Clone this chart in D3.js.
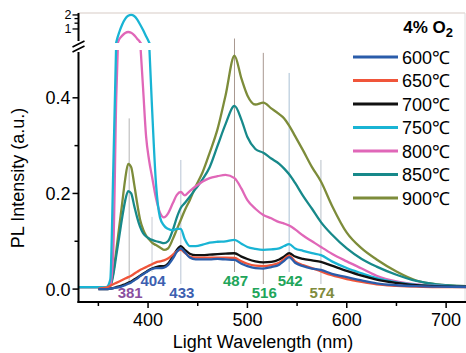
<!DOCTYPE html>
<html>
<head>
<script src="https://cdn.jsdelivr.net/npm/d3@7"></script>
<meta charset="utf-8">
<title>PL spectra</title>
<style>
  body { margin: 0; background: #fff; }
  svg { display: block; font-family: "Liberation Sans", Arial, sans-serif; }
</style>
</head>
<body>
<div id="chartArea"></div>
<script>
  // wavelength grid (nm)
  var wl = [330, 350, 358, 362, 365, 368, 371, 374, 377, 380, 383, 386, 389, 392, 395, 398, 401, 404, 408, 412,
            416, 420, 425, 429, 433, 437, 442, 448, 455, 462, 470, 478, 487, 494, 500, 508, 516, 524, 532, 537,
            542, 548, 556, 565, 574, 585, 600, 615, 630, 650, 670, 690, 720];

  var s600 = [null, 0, 0, 0.001, 0.002, 0.003, 0.004, 0.006, 0.008, 0.011, 0.014, 0.018, 0.022, 0.027, 0.031, 0.035, 0.039, 0.042, 0.044, 0.044,
              0.045, 0.05, 0.064, 0.078, 0.085, 0.077, 0.066, 0.062, 0.062, 0.062, 0.063, 0.062, 0.061, 0.053, 0.048, 0.044, 0.043, 0.046, 0.051, 0.059,
              0.067, 0.055, 0.048, 0.043, 0.04, 0.032, 0.025, 0.018, 0.012, 0.008, 0.006, 0.005, 0.004];
  var s650 = [null, 0.001, 0.003, 0.007, 0.01, 0.013, 0.016, 0.019, 0.022, 0.025, 0.028, 0.032, 0.036, 0.04, 0.043, 0.046, 0.049, 0.052, 0.056, 0.058,
              0.06, 0.064, 0.072, 0.079, 0.082, 0.076, 0.068, 0.066, 0.066, 0.066, 0.066, 0.066, 0.065, 0.058, 0.053, 0.049, 0.048, 0.05, 0.055, 0.063,
              0.07, 0.058, 0.05, 0.044, 0.037, 0.029, 0.021, 0.015, 0.01, 0.007, 0.005, 0.004, 0.004];
  var s700 = [null, 0, 0, 0.001, 0.002, 0.004, 0.006, 0.008, 0.01, 0.013, 0.016, 0.02, 0.024, 0.028, 0.032, 0.036, 0.04, 0.043, 0.046, 0.048,
              0.048, 0.053, 0.068, 0.082, 0.09, 0.082, 0.074, 0.071, 0.071, 0.072, 0.073, 0.074, 0.075, 0.068, 0.063, 0.058, 0.056, 0.057, 0.062, 0.068,
              0.075, 0.068, 0.063, 0.06, 0.057, 0.049, 0.038, 0.028, 0.02, 0.013, 0.008, 0.006, 0.005];
  var s750 = [0.004, 0.004, 0.004, 0.02, 0.25, 0.52, 0.85, 1.25, 1.65, 1.92, 2.0, 1.9, 1.6, 1.25, 0.95, 0.7, 0.52, 0.38, 0.22, 0.15,
              0.133, 0.126, 0.123, 0.126, 0.126, 0.104, 0.09, 0.09, 0.093, 0.097, 0.099, 0.1, 0.103, 0.095, 0.088, 0.084, 0.082, 0.083, 0.085, 0.09,
              0.094, 0.085, 0.08, 0.075, 0.071, 0.058, 0.044, 0.033, 0.023, 0.014, 0.009, 0.007, 0.005];
  var s800 = [0.004, 0.004, 0.004, 0.008, 0.08, 0.4, 0.6, 0.72, 0.82, 0.86, 0.83, 0.74, 0.62, 0.52, 0.42, 0.32, 0.27, 0.235, 0.19, 0.16,
              0.15, 0.158, 0.18, 0.197, 0.203, 0.196, 0.205, 0.215, 0.225, 0.232, 0.236, 0.239, 0.232, 0.21, 0.186, 0.168, 0.155, 0.148, 0.14, 0.137,
              0.133, 0.125, 0.112, 0.1, 0.088, 0.074, 0.058, 0.043, 0.028, 0.016, 0.01, 0.007, 0.005];
  var s850 = [0.004, 0.004, 0.004, 0.006, 0.03, 0.07, 0.11, 0.15, 0.185, 0.205, 0.2, 0.175, 0.15, 0.13, 0.117, 0.11, 0.106, 0.103, 0.1, 0.098,
              0.096, 0.1, 0.124, 0.15, 0.17, 0.18, 0.193, 0.21, 0.23, 0.255, 0.3, 0.345, 0.383, 0.354, 0.318, 0.293, 0.285, 0.273, 0.262, 0.252,
              0.24, 0.222, 0.195, 0.168, 0.14, 0.114, 0.085, 0.063, 0.047, 0.03, 0.017, 0.01, 0.006];
  var s900 = [0.004, 0.004, 0.004, 0.008, 0.035, 0.08, 0.13, 0.18, 0.23, 0.262, 0.255, 0.22, 0.18, 0.145, 0.125, 0.112, 0.104, 0.097, 0.092, 0.087,
              0.082, 0.085, 0.105, 0.125, 0.145, 0.165, 0.186, 0.215, 0.245, 0.285, 0.335, 0.405, 0.488, 0.44, 0.405, 0.386, 0.39, 0.378, 0.366, 0.357,
              0.342, 0.32, 0.29, 0.255, 0.225, 0.175, 0.118, 0.085, 0.062, 0.037, 0.018, 0.01, 0.006];

  var seriesNames = ['600℃', '650℃', '700℃', '750℃', '800℃', '850℃', '900℃'];
  var seriesValues = [s600, s650, s700, s750, s800, s850, s900];
  var seriesColors = ['#2a5caa', '#f0553a', '#111111', '#19b4d4', '#e067b8', '#17898a', '#7d8c3a'];

  // peak markers
  var peakNm = [381, 404, 433, 487, 516, 542, 574];
  var peakTop = [0.357, 0.151, 0.27, 0.524, 0.494, 0.452, 0.27];
  var peakRow = [1, 0, 1, 0, 1, 0, 1];
  var peakColors = ['#8a4fa0', '#3d5fb0', '#3d5fb0', '#21a55a', '#21a55a', '#21a55a', '#7f8b3d'];
  var peakLineColors = ['#b4b4b4', '#c8ccd4', '#b8c4d4', '#a89890', '#a89890', '#a8c0d4', '#b8c0c8'];

  var xTicks = [400, 500, 600, 700];
  var xMinor = [350, 450, 550, 650];
  var yTicks = [0.0, 0.2, 0.4];
  var yMinor = [0.1, 0.3];
  var yUpTicks = [1, 2];
  var yUpMinor = [1.33, 1.67];

  var W = 466, H = 353;
  var pLeft = 78.5, pRight = 466, pTop = 13, pBottom = 302;
  var lowTop = 50, upBottom = 43;

  var svg = d3.select('#chartArea').append('svg').attr('width', W).attr('height', H);

  var x = d3.scaleLinear().domain([330, 720]).range([pLeft, pRight]);
  var yLow = d3.scaleLinear().domain([-0.027, 0.5]).range([pBottom, lowTop]);
  var yUp = d3.scaleLog().domain([0.5, 2.2]).range([upBottom, pTop]);

  var defs = svg.append('defs');
  defs.append('clipPath').attr('id', 'clipLow').append('rect')
    .attr('x', pLeft).attr('y', lowTop).attr('width', pRight - pLeft).attr('height', pBottom - lowTop);
  defs.append('clipPath').attr('id', 'clipUp').append('rect')
    .attr('x', pLeft).attr('y', pTop).attr('width', pRight - pLeft).attr('height', upBottom - pTop);

  // frame
  svg.append('line').attr('x1', pLeft).attr('x2', pRight - 1).attr('y1', pTop).attr('y2', pTop)
    .attr('stroke', '#d8ccc6').attr('stroke-width', 1.2);
  svg.append('line').attr('x1', pRight - 1).attr('x2', pRight - 1).attr('y1', pTop).attr('y2', pBottom)
    .attr('stroke', '#dedede').attr('stroke-width', 1);

  // peak reference lines
  svg.append('g').selectAll('line').data(peakNm).enter().append('line')
    .attr('x1', function(d) { return x(d); })
    .attr('x2', function(d) { return x(d); })
    .attr('y1', function(d, i) { return yLow(peakTop[i]); })
    .attr('y2', function(d, i) { return peakRow[i] ? 284 : 272; })
    .attr('stroke', function(d, i) { return peakLineColors[i]; })
    .attr('stroke-width', 1);

  var table = seriesValues.map(function(vals) {
    return wl.map(function(w, i) { return [w, vals[i]]; });
  });

  var lineLow = d3.line()
    .defined(function(d) { return d[1] !== null; })
    .x(function(d) { return x(d[0]); })
    .y(function(d) { return yLow(d[1]); })
    .curve(d3.curveMonotoneX);

  var lineUp = d3.line()
    .defined(function(d) { return d[1] !== null && d[1] > 0.15; })
    .x(function(d) { return x(d[0]); })
    .y(function(d) { return yUp(d[1]); })
    .curve(d3.curveMonotoneX);

  var order = [6, 5, 4, 3, 2, 1, 0];
  var gLow = svg.append('g').attr('clip-path', 'url(#clipLow)');
  var gUp = svg.append('g').attr('clip-path', 'url(#clipUp)');
  order.forEach(function(k) {
    gLow.append('path').attr('d', lineLow(table[k]))
      .attr('fill', 'none').attr('stroke', seriesColors[k]).attr('stroke-width', 2.3)
      .attr('stroke-linejoin', 'round');
    if (d3.max(seriesValues[k]) > 0.5) {
      gUp.append('path').attr('d', lineUp(table[k]))
        .attr('fill', 'none').attr('stroke', seriesColors[k]).attr('stroke-width', 2.3);
    }
  });

  // peak labels
  svg.append('g').selectAll('text').data(peakNm).enter().append('text')
    .attr('x', function(d) { return x(d) + 1; })
    .attr('y', function(d, i) { return peakRow[i] ? yLow(-0.008) + 5.5 : yLow(0.017) + 5.5; })
    .attr('text-anchor', 'middle')
    .attr('font-size', 15).attr('font-weight', 'bold')
    .attr('fill', function(d, i) { return peakColors[i]; })
    .text(function(d) { return d; });

  // axes
  var xAxis = svg.append('g').attr('transform', 'translate(0,' + pBottom + ')');
  xAxis.append('line').attr('x1', pLeft - 1).attr('x2', pRight).attr('stroke', '#000').attr('stroke-width', 2);
  xAxis.selectAll('.maj').data(xTicks).enter().append('line')
    .attr('x1', function(d) { return x(d); }).attr('x2', function(d) { return x(d); })
    .attr('y1', 0).attr('y2', 6).attr('stroke', '#000').attr('stroke-width', 1.5);
  xAxis.selectAll('.min').data(xMinor).enter().append('line')
    .attr('x1', function(d) { return x(d); }).attr('x2', function(d) { return x(d); })
    .attr('y1', 0).attr('y2', 4).attr('stroke', '#000').attr('stroke-width', 1.5);
  xAxis.selectAll('text').data(xTicks).enter().append('text')
    .attr('x', function(d) { return x(d); }).attr('y', 24)
    .attr('text-anchor', 'middle').attr('font-size', 18).text(function(d) { return d; });

  var yAxis = svg.append('g');
  yAxis.append('line').attr('x1', pLeft).attr('x2', pLeft).attr('y1', 52).attr('y2', pBottom + 1)
    .attr('stroke', '#000').attr('stroke-width', 2);
  yAxis.append('line').attr('x1', pLeft).attr('x2', pLeft).attr('y1', pTop).attr('y2', 41)
    .attr('stroke', '#000').attr('stroke-width', 2);
  yAxis.selectAll('.maj').data(yTicks).enter().append('line')
    .attr('x1', pLeft - 6).attr('x2', pLeft)
    .attr('y1', function(d) { return yLow(d); }).attr('y2', function(d) { return yLow(d); })
    .attr('stroke', '#000').attr('stroke-width', 1.5);
  yAxis.selectAll('.min').data(yMinor).enter().append('line')
    .attr('x1', pLeft - 4).attr('x2', pLeft)
    .attr('y1', function(d) { return yLow(d); }).attr('y2', function(d) { return yLow(d); })
    .attr('stroke', '#000').attr('stroke-width', 1.5);
  yAxis.selectAll('.lab').data(yTicks).enter().append('text')
    .attr('x', pLeft - 8).attr('y', function(d) { return yLow(d) + 6.5; })
    .attr('text-anchor', 'end').attr('font-size', 18).text(function(d) { return d.toFixed(1); });
  yAxis.selectAll('.umaj').data(yUpTicks).enter().append('line')
    .attr('x1', pLeft - 6).attr('x2', pLeft)
    .attr('y1', function(d) { return yUp(d); }).attr('y2', function(d) { return yUp(d); })
    .attr('stroke', '#000').attr('stroke-width', 1.3);
  yAxis.selectAll('.umin').data(yUpMinor).enter().append('line')
    .attr('x1', pLeft - 4).attr('x2', pLeft)
    .attr('y1', function(d) { return yUp(d); }).attr('y2', function(d) { return yUp(d); })
    .attr('stroke', '#000').attr('stroke-width', 1.3);
  yAxis.selectAll('.ulab').data(yUpTicks).enter().append('text')
    .attr('x', pLeft - 7).attr('y', function(d) { return yUp(d) + 4; })
    .attr('text-anchor', 'end').attr('font-size', 12.5).text(function(d) { return d; });

  // axis break marks
  [44, 49].forEach(function(yy) {
    yAxis.append('line').attr('x1', pLeft - 6).attr('x2', pLeft + 6)
      .attr('y1', yy + 3).attr('y2', yy - 3).attr('stroke', '#000').attr('stroke-width', 1.6);
  });

  // axis titles
  svg.append('text').attr('x', 263).attr('y', 348).attr('text-anchor', 'middle')
    .attr('font-size', 18).text('Light Wavelength (nm)');
  svg.append('text').attr('transform', 'translate(24,178) rotate(-90)').attr('text-anchor', 'middle')
    .attr('font-size', 18).text('PL Intensity (a.u.)');

  // legend
  var lg = svg.append('g');
  var legTitle = lg.append('text').attr('x', 453).attr('y', 33).attr('text-anchor', 'end')
    .attr('font-size', 17).attr('font-weight', 'bold');
  legTitle.append('tspan').text('4% O');
  legTitle.append('tspan').attr('font-size', 13).attr('dy', 4).text('2');
  seriesNames.forEach(function(name, i) {
    var cy = 57 + i * 23.5;
    lg.append('line').attr('x1', 353).attr('x2', 398).attr('y1', cy).attr('y2', cy)
      .attr('stroke', seriesColors[i]).attr('stroke-width', 3);
    lg.append('text').attr('x', 402).attr('y', cy + 6.5).attr('font-size', 18).text(name);
  });
</script>
</body>
</html>
